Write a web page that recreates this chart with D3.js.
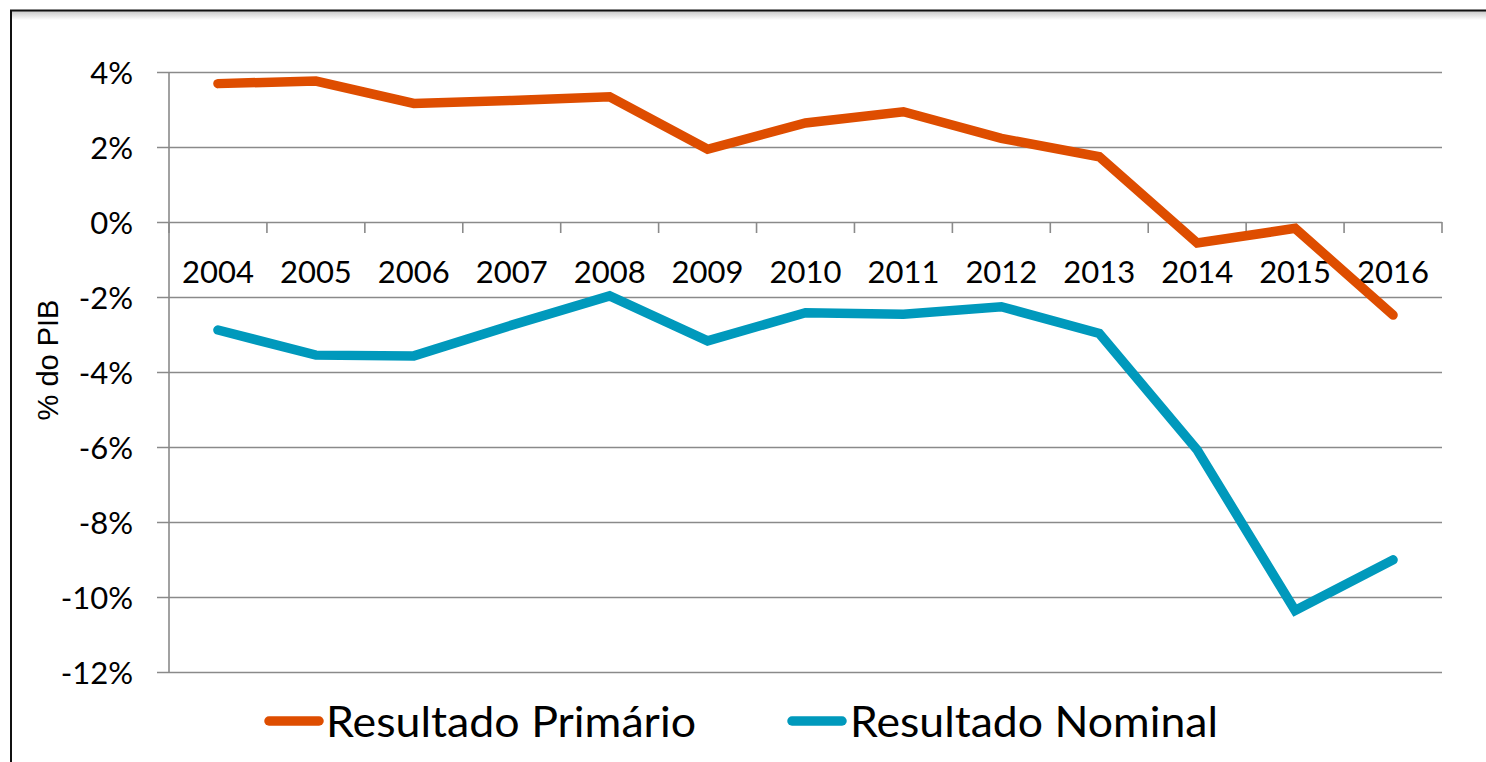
<!DOCTYPE html>
<html>
<head>
<meta charset="utf-8">
<script src="https://cdn.jsdelivr.net/npm/d3@7"></script>
<style>
  html, body { margin: 0; padding: 0; background: #fff; }
  svg { display: block; }
</style>
</head>
<body>
<svg id="chart" width="1486" height="762"></svg>
<script>
const years = ["2004","2005","2006","2007","2008","2009","2010","2011","2012","2013","2014","2015","2016"];
const primario = [3.69, 3.76, 3.16, 3.24, 3.34, 1.94, 2.64, 2.94, 2.23, 1.74, -0.56, -0.17, -2.48];
const nominal = [-2.88, -3.55, -3.57, -2.75, -1.97, -3.17, -2.42, -2.46, -2.26, -2.97, -6.08, -10.36, -9.01];
const yTicks = [4, 2, 0, -2, -4, -6, -8, -10, -12];
const seriesNames = ["Resultado Primário", "Resultado Nominal"];
const seriesColors = ["#DE4D00", "#0099BC"];
const yTitle = "% do PIB";

const svg = d3.select("#chart");
const W = 1486, H = 762;
const plot = { left: 169, right: 1442, top: 72, bottom: 672 };
const font = "Lato, 'Open Sans', sans-serif";

// frame with top shadow
const defs = svg.append("defs");
const grad = defs.append("linearGradient").attr("id", "shadow").attr("x1", 0).attr("y1", 0).attr("x2", 0).attr("y2", 1);
grad.append("stop").attr("offset", "0%").attr("stop-color", "#c8c8c8");
grad.append("stop").attr("offset", "100%").attr("stop-color", "#ffffff");
svg.append("rect").attr("x", 0).attr("y", 0).attr("width", W).attr("height", H).attr("fill", "#fff");
svg.append("rect").attr("x", 12).attr("y", 11).attr("width", W - 12).attr("height", 9).attr("fill", "url(#shadow)");
svg.append("line").attr("x1", 10).attr("x2", W).attr("y1", 10.5).attr("y2", 10.5).attr("stroke", "#111").attr("stroke-width", 2);
svg.append("line").attr("x1", 11).attr("x2", 11).attr("y1", 10).attr("y2", H).attr("stroke", "#111").attr("stroke-width", 2);

const x = d3.scaleBand().domain(years).range([plot.left, plot.right]);
const y = d3.scaleLinear().domain([-12, 4]).range([plot.bottom, plot.top]);
const cx = d => x(d) + x.bandwidth() / 2;

const gridColor = "#8a8a8a";

// horizontal gridlines via axis
const yAxis = d3.axisLeft(y).tickValues(yTicks).tickSize(-(plot.right - plot.left)).tickFormat(d => d + "%");
const gy = svg.append("g").attr("transform", `translate(${plot.left},0)`).call(yAxis);
gy.select(".domain").remove();
gy.selectAll(".tick line").attr("stroke", gridColor).attr("stroke-width", 1.6).attr("x1", -12);
gy.selectAll(".tick text")
  .attr("x", -36).attr("dy", "0.36em")
  .attr("font-family", font).attr("font-size", 31).attr("fill", "#000")
  .attr("text-anchor", "end");

// vertical axis line
svg.append("line").attr("x1", plot.left).attr("x2", plot.left).attr("y1", plot.top).attr("y2", plot.bottom)
  .attr("stroke", gridColor).attr("stroke-width", 1.6);

// category axis at 0 with ticks at band boundaries
const gx = svg.append("g").attr("transform", `translate(0,${y(0)})`);
const boundaries = years.map(d => x(d)).concat([plot.right]);
gx.selectAll("line.tk").data(boundaries).enter().append("line")
  .attr("x1", d => d).attr("x2", d => d).attr("y1", 0).attr("y2", 11)
  .attr("stroke", gridColor).attr("stroke-width", 1.6);
gx.selectAll("text").data(years).enter().append("text")
  .attr("x", d => cx(d)).attr("y", 61)
  .attr("text-anchor", "middle")
  .attr("font-family", font).attr("font-size", 31).attr("fill", "#000")
  .text(d => d);

// lines
const lineGen = d3.line().x((d, i) => cx(years[i])).y(d => y(d));
[primario, nominal].forEach((vals, k) => {
  svg.append("path").datum(vals)
    .attr("d", lineGen)
    .attr("fill", "none")
    .attr("stroke", seriesColors[k])
    .attr("stroke-width", 9.5)
    .attr("stroke-linecap", "round")
    .attr("stroke-linejoin", "miter");
});

// y title
svg.append("text")
  .attr("transform", `translate(58,${360}) rotate(-90)`)
  .attr("text-anchor", "middle")
  .attr("font-family", "'Liberation Sans', Arial, sans-serif")
  .attr("font-size", 29).attr("fill", "#000")
  .text(yTitle);

// legend
const legendItems = [
  { sx: 269, tx: 326, tw: 370 },
  { sx: 792, tx: 850, tw: 368 }
];
seriesNames.forEach((name, k) => {
  const it = legendItems[k];
  svg.append("line").attr("x1", it.sx).attr("x2", it.sx + 50).attr("y1", 721).attr("y2", 721)
    .attr("stroke", seriesColors[k]).attr("stroke-width", 9.5).attr("stroke-linecap", "round");
  svg.append("text").attr("x", it.tx).attr("y", 737)
    .attr("font-family", font).attr("font-size", 43).attr("fill", "#000")
    .attr("textLength", it.tw).attr("lengthAdjust", "spacingAndGlyphs")
    .text(name);
});
</script>
</body>
</html>
